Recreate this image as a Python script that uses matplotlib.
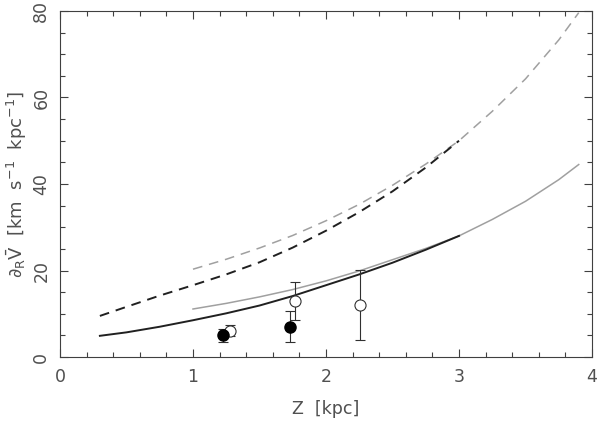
import numpy as np
import matplotlib
matplotlib.use("Agg")
import matplotlib.pyplot as plt

# curves
z_black = [0.3, 0.5, 0.75, 1.0, 1.25, 1.5, 1.75, 2.0, 2.25, 2.5, 2.75, 3.0]
solid_black = [4.9, 5.7, 7.0, 8.5, 10.1, 11.9, 14.1, 16.6, 19.1, 21.8, 24.8, 28.0]
dash_black = [9.5, 11.6, 14.2, 16.6, 19.1, 21.9, 25.3, 29.2, 33.5, 38.3, 43.8, 50.0]

z_grey = [1.0, 1.25, 1.5, 1.75, 2.0, 2.25, 2.5, 2.75, 3.0, 3.25, 3.5, 3.75, 3.9]
solid_grey = [11.1, 12.4, 13.9, 15.6, 17.6, 19.9, 22.5, 25.1, 28.0, 31.8, 36.0, 41.0, 44.5]
dash_grey = [20.3, 22.6, 25.2, 28.1, 31.5, 35.3, 39.7, 44.6, 50.0, 56.8, 64.3, 73.3, 79.6]

# data points with errors
z_filled = [1.225, 1.73]
v_filled = [5.0, 7.0]
e_filled = [1.5, 3.6]

z_open = [1.28, 1.77, 2.255]
v_open = [6.1, 13.0, 12.0]
e_open = [1.3, 4.4, 8.1]

plt.rcParams['lines.scale_dashes'] = False
plt.rcParams['font.family'] = ['DejaVu Sans']
plt.rcParams['mathtext.fontset'] = 'dejavusans'

fig = plt.figure(figsize=(5.98, 4.22), dpi=100)
ax = fig.add_axes([0.1003, 0.154, 0.8897, 0.820])

grey = '#a0a0a0'
txt = '#505050'
ax.plot(z_grey, dash_grey, color=grey, lw=1.1, dashes=(7, 5))
ax.plot(z_grey, solid_grey, color=grey, lw=1.1)
ax.plot(z_black, dash_black, color='#202020', lw=1.4, dashes=(7, 5))
ax.plot(z_black, solid_black, color='#202020', lw=1.4)

ax.errorbar(z_open, v_open, yerr=e_open, fmt='o', ms=8, mfc='white',
            mec='#303030', mew=0.8, ecolor='#303030', elinewidth=0.8,
            capsize=3.5, capthick=0.8)
ax.errorbar(z_filled, v_filled, yerr=e_filled, fmt='o', ms=8, mfc='black',
            mec='black', ecolor='#303030', elinewidth=0.8,
            capsize=3.5, capthick=0.8)

ax.set_xlim(0, 4)
ax.set_ylim(0, 80)
ax.set_xticks([0, 1, 2, 3, 4])
ax.set_yticks([0, 20, 40, 60, 80])
ax.set_xticks(np.arange(0, 4.01, 0.2), minor=True)
ax.set_yticks(np.arange(0, 80.1, 5), minor=True)
ax.tick_params(which='both', direction='in', top=True, right=True,
               colors='#404040', labelcolor=txt, labelsize=12.5)
ax.tick_params(which='major', length=6, width=0.8)
ax.tick_params(which='minor', length=3.5, width=0.8)
ax.tick_params(axis='x', pad=8)
ax.tick_params(axis='y', pad=7)
for lbl in ax.get_yticklabels():
    lbl.set_rotation(90)
    lbl.set_va('center')
for s in ax.spines.values():
    s.set_color('#404040')
    s.set_linewidth(0.8)

ax.set_xlabel('Z  [kpc]', fontsize=12.5, color=txt, labelpad=10)
ax.set_ylabel(r'$\partial_{\mathrm{R}}\bar{\mathrm{V}}$  [km  s$^{-1}$  kpc$^{-1}$]',
              fontsize=13, color=txt)
ax.yaxis.set_label_coords(-0.058, 0.5)

fig.savefig('out.png', dpi=100)
